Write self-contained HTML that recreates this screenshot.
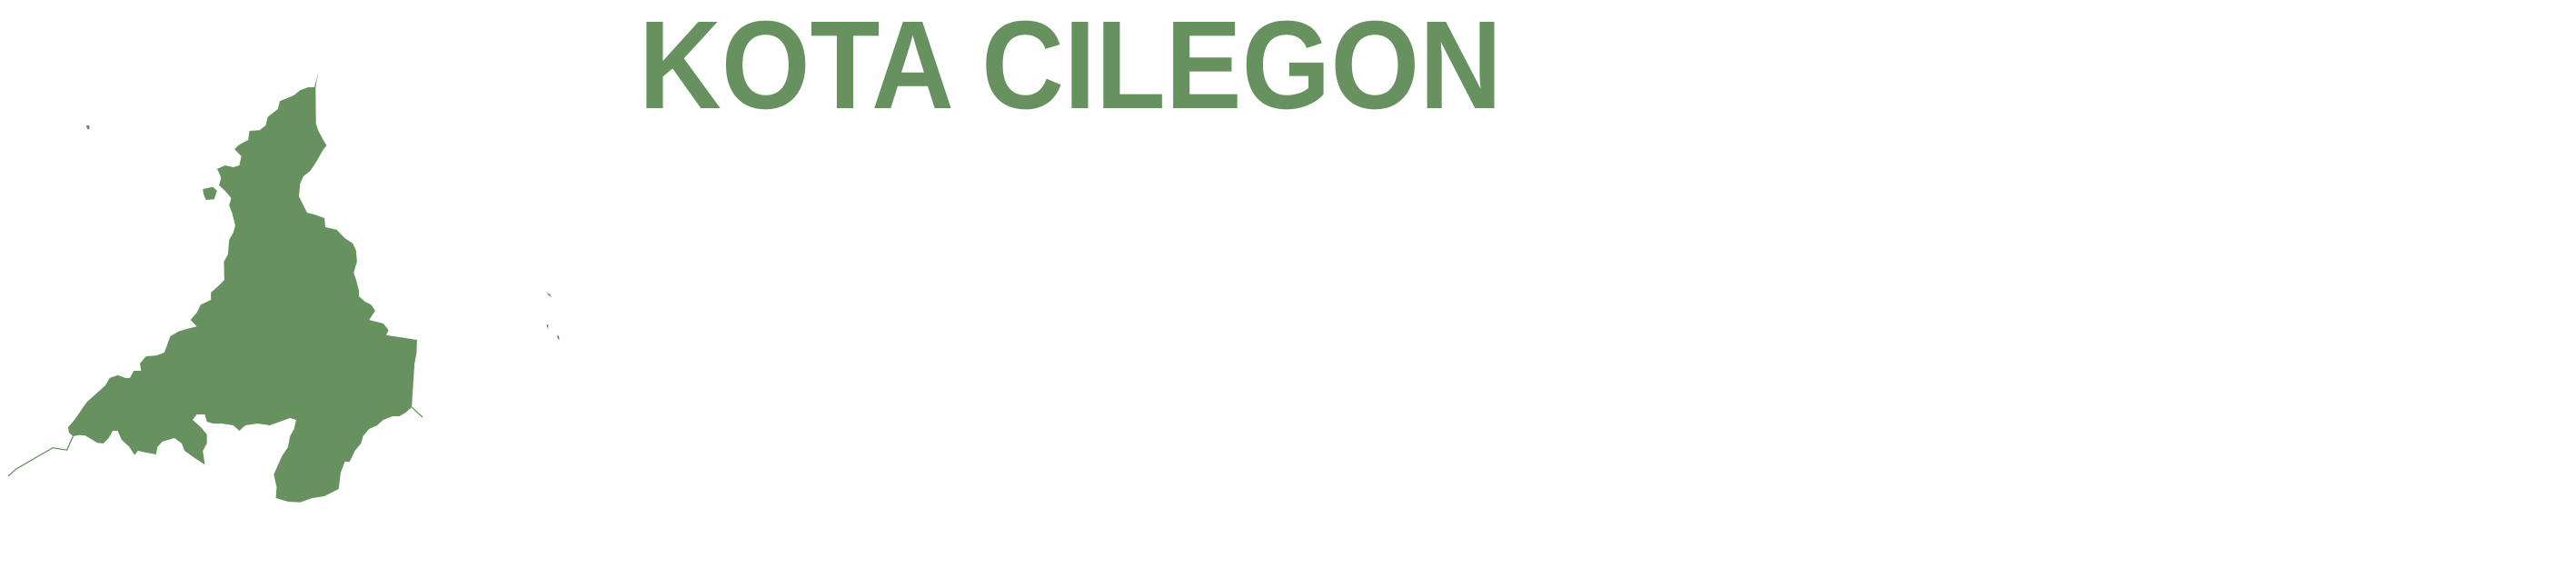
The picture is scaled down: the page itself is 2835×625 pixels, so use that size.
<!DOCTYPE html>
<html><head><meta charset="utf-8"><style>
html,body{margin:0;padding:0;background:#fff;}
svg{display:block;}
</style></head><body>
<svg width="2835" height="625" viewBox="0 0 2835 625">
<rect width="2835" height="625" fill="#fff"/>
<text x="703" y="119" font-family="'Liberation Sans', sans-serif" font-weight="bold" font-size="138" fill="#67915f" textLength="950" lengthAdjust="spacingAndGlyphs">KOTA CILEGON</text>
<g transform="scale(0.4464,0.4)" fill="#67915f">
<polygon points="785,200 778,240 779,340 785,360 797,385 805,400 795,415 780,445 765,470 748,485 740,505 737,540 748,565 757,585 775,590 800,600 802,625 830,632 850,655 870,670 878,690 880,720 872,750 878,770 885,800 885,815 900,830 915,838 925,855 910,880 945,890 958,908 952,922 1000,930 1028,935 1027,970 1022,1000 1015,1120 1000,1135 985,1145 968,1145 945,1155 930,1170 910,1180 895,1200 890,1220 875,1240 862,1270 850,1270 840,1300 835,1345 800,1365 770,1370 740,1382 710,1380 680,1370 682,1340 675,1305 685,1280 695,1255 710,1230 715,1200 725,1180 730,1155 715,1150 690,1160 665,1170 635,1165 605,1170 590,1185 575,1170 545,1165 525,1165 510,1160 505,1140 485,1140 475,1155 495,1175 510,1195 510,1220 500,1240 505,1278 480,1260 455,1240 448,1220 430,1205 400,1215 388,1230 385,1250 360,1245 340,1240 332,1252 318,1228 300,1210 290,1185 278,1185 268,1205 255,1220 240,1218 210,1198 195,1197 180,1200 170,1190 168,1175 180,1160 190,1145 205,1120 215,1105 240,1080 260,1060 270,1040 290,1032 310,1040 320,1040 330,1020 348,1020 345,1000 360,980 385,978 405,970 410,955 420,925 440,912 460,905 485,898 470,880 485,860 495,838 520,825 520,805 540,785 553,770 552,720 562,700 565,660 575,640 580,620 572,585 565,565 570,545 555,525 540,510 545,490 540,475 535,465 555,455 575,460 590,455 595,430 578,410 590,398 612,385 615,360 640,358 655,345 660,322 685,300 690,278 708,270 725,262 740,248 760,240 775,240"/>
<polygon points="500,520 525,514 535,525 528,548 508,550 502,535"/>
<polygon points="212,345 220,345 221,355 216,356"/>
<polygon points="1348,806 1355,808 1360,818 1352,812"/>
<polygon points="1347,893 1352,893 1351,906"/>
<polygon points="1373,922 1378,925 1379,935 1375,932"/>
<polyline fill="none" stroke="#67915f" stroke-width="3" points="180,1200 165,1238 130,1232 40,1290 20,1310"/>
<polyline fill="none" stroke="#67915f" stroke-width="3" points="1015,1120 1042,1148"/>
</g>
</svg>
</body></html>
